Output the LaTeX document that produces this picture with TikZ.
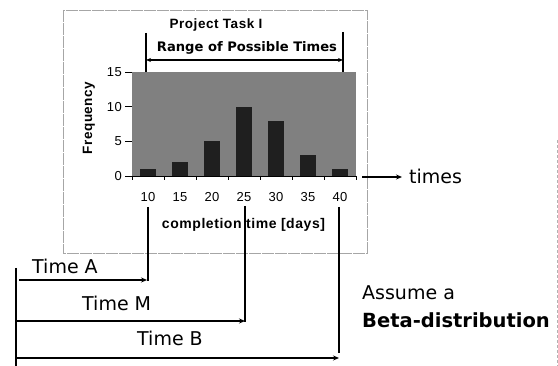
\documentclass[tikz,border=0pt]{standalone}
\usepackage{fontspec}
\setmainfont{DejaVu Sans}
\newfontfamily\arialf{Liberation Sans}
\newfontfamily\arialsp[LetterSpace=4]{Liberation Sans}
\usetikzlibrary{arrows.meta}
\begin{document}
\begin{tikzpicture}[x=1pt,y=-1pt,
  lbl/.style={inner sep=0pt, anchor=west, font=\fontsize{19}{22}\selectfont},
  chartbold/.style={inner sep=0pt, font=\arialsp\bfseries\fontsize{14}{16}\selectfont},
  ticklbl/.style={inner sep=0pt, font=\arialsp\fontsize{13}{15}\selectfont},
  marker/.style={line width=1.8pt},
  arr/.style={line width=1.2pt,-{Stealth[length=6pt,width=5pt]}},
  frame/.style={draw=black!35, line width=0.9pt, dash pattern=on 12pt off 1pt},
  plotbg/.style={fill=black!50},
  barfill/.style={fill=black!88},
]
\useasboundingbox (0,0) rectangle (558,366);
% scan border on the right
\draw[black!30, line width=0.6pt, dash pattern=on 3pt off 2pt] (557,140) -- (557,366);
% chart frame
\draw[frame] (63,10) rectangle (367,253);
% plot area
\fill[plotbg] (132,72) rectangle (356,176);
\foreach \v [count=\i from 0] in {1,2,5,10,8,3,1}{
  \fill[barfill] ({140+32*\i},176) rectangle ({156+32*\i},{176-6.93*\v});
}
% axes and ticks
\draw[line width=0.8pt] (128,176) -- (356,176);
\foreach \k in {0,...,7}{ \draw[line width=0.6pt] ({132+32*\k},176) -- ({132+32*\k},180); }
\foreach \v/\t in {0/0,5/5,10/10,15/15}{
  \draw[line width=0.6pt] (125,{176-6.93*\v}) -- (132,{176-6.93*\v});
  \node[ticklbl, anchor=east] (y\t) at (122,{176-6.93*\v}) {\t};
}
\foreach \t [count=\i from 0] in {10,15,20,25,30,35,40}{
  \node[ticklbl] (x\t) at ({148+32*\i},197) {\t};
}
\node[chartbold, rotate=90, font=\arialsp\bfseries\fontsize{13.5}{15}\selectfont] (freq) at (89,118) {Frequency};
\node[chartbold] (xlabel) at (243.5,225) {completion time [days]};
\node[chartbold, font=\arialsp\bfseries\fontsize{13.5}{15}\selectfont] (task) at (216,25) {Project Task I};
\node[inner sep=0pt, font=\bfseries\fontsize{13.1}{15}\selectfont] (range) at (247,48) {Range of Possible Times};

% range markers at the top
\coordinate (rlt) at (146,33); \coordinate (rlb) at (146,72);
\coordinate (rrt) at (343,32); \coordinate (rrb) at (343,72);
\coordinate (rl) at (146,60); \coordinate (rr) at (343,60);
\draw[marker] (rlt) -- (rlb);
\draw[marker] (rrt) -- (rrb);
\draw[line width=1.1pt,{Stealth[length=5pt,width=4pt]}-{Stealth[length=5pt,width=4pt]}] (rl) -- (rr);

% times arrow
\coordinate (ts) at (362,177);
\coordinate (te) at (402,177);
\node[lbl] (times) at (409,176) {times};
\draw[arr] (ts) -- (te);

% lower markers
\coordinate (at) at (148,207); \coordinate (ab) at (148,281);
\coordinate (mt) at (245,206); \coordinate (mb) at (245,322);
\coordinate (bt) at (339,207); \coordinate (bb) at (339,353);
\draw[marker] (at) -- (ab);
\draw[marker] (mt) -- (mb);
\draw[marker] (bt) -- (bb);

% base line
\coordinate (baset) at (16,268); \coordinate (baseb) at (16,366);
\draw[marker] (baset) -- (baseb);
\coordinate (as) at (19,280); \coordinate (ae) at (147,280);
\coordinate (ms) at (16,321); \coordinate (me) at (245,321);
\coordinate (bs) at (16,358); \coordinate (be) at (339,358);
\draw[arr] (as) -- (ae);
\draw[arr] (ms) -- (me);
\draw[arr] (bs) -- (be);

\node[lbl] (ta) at (32,266) {Time A};
\node[lbl] (tm) at (82,303) {Time M};
\node[lbl] (tb) at (137,338) {Time B};

\node[lbl] (assume) at (362,293) {Assume a};
\node[lbl, font=\bfseries\fontsize{19.5}{22}\selectfont] (beta) at (362,320) {Beta-distribution};
\end{tikzpicture}
\end{document}
